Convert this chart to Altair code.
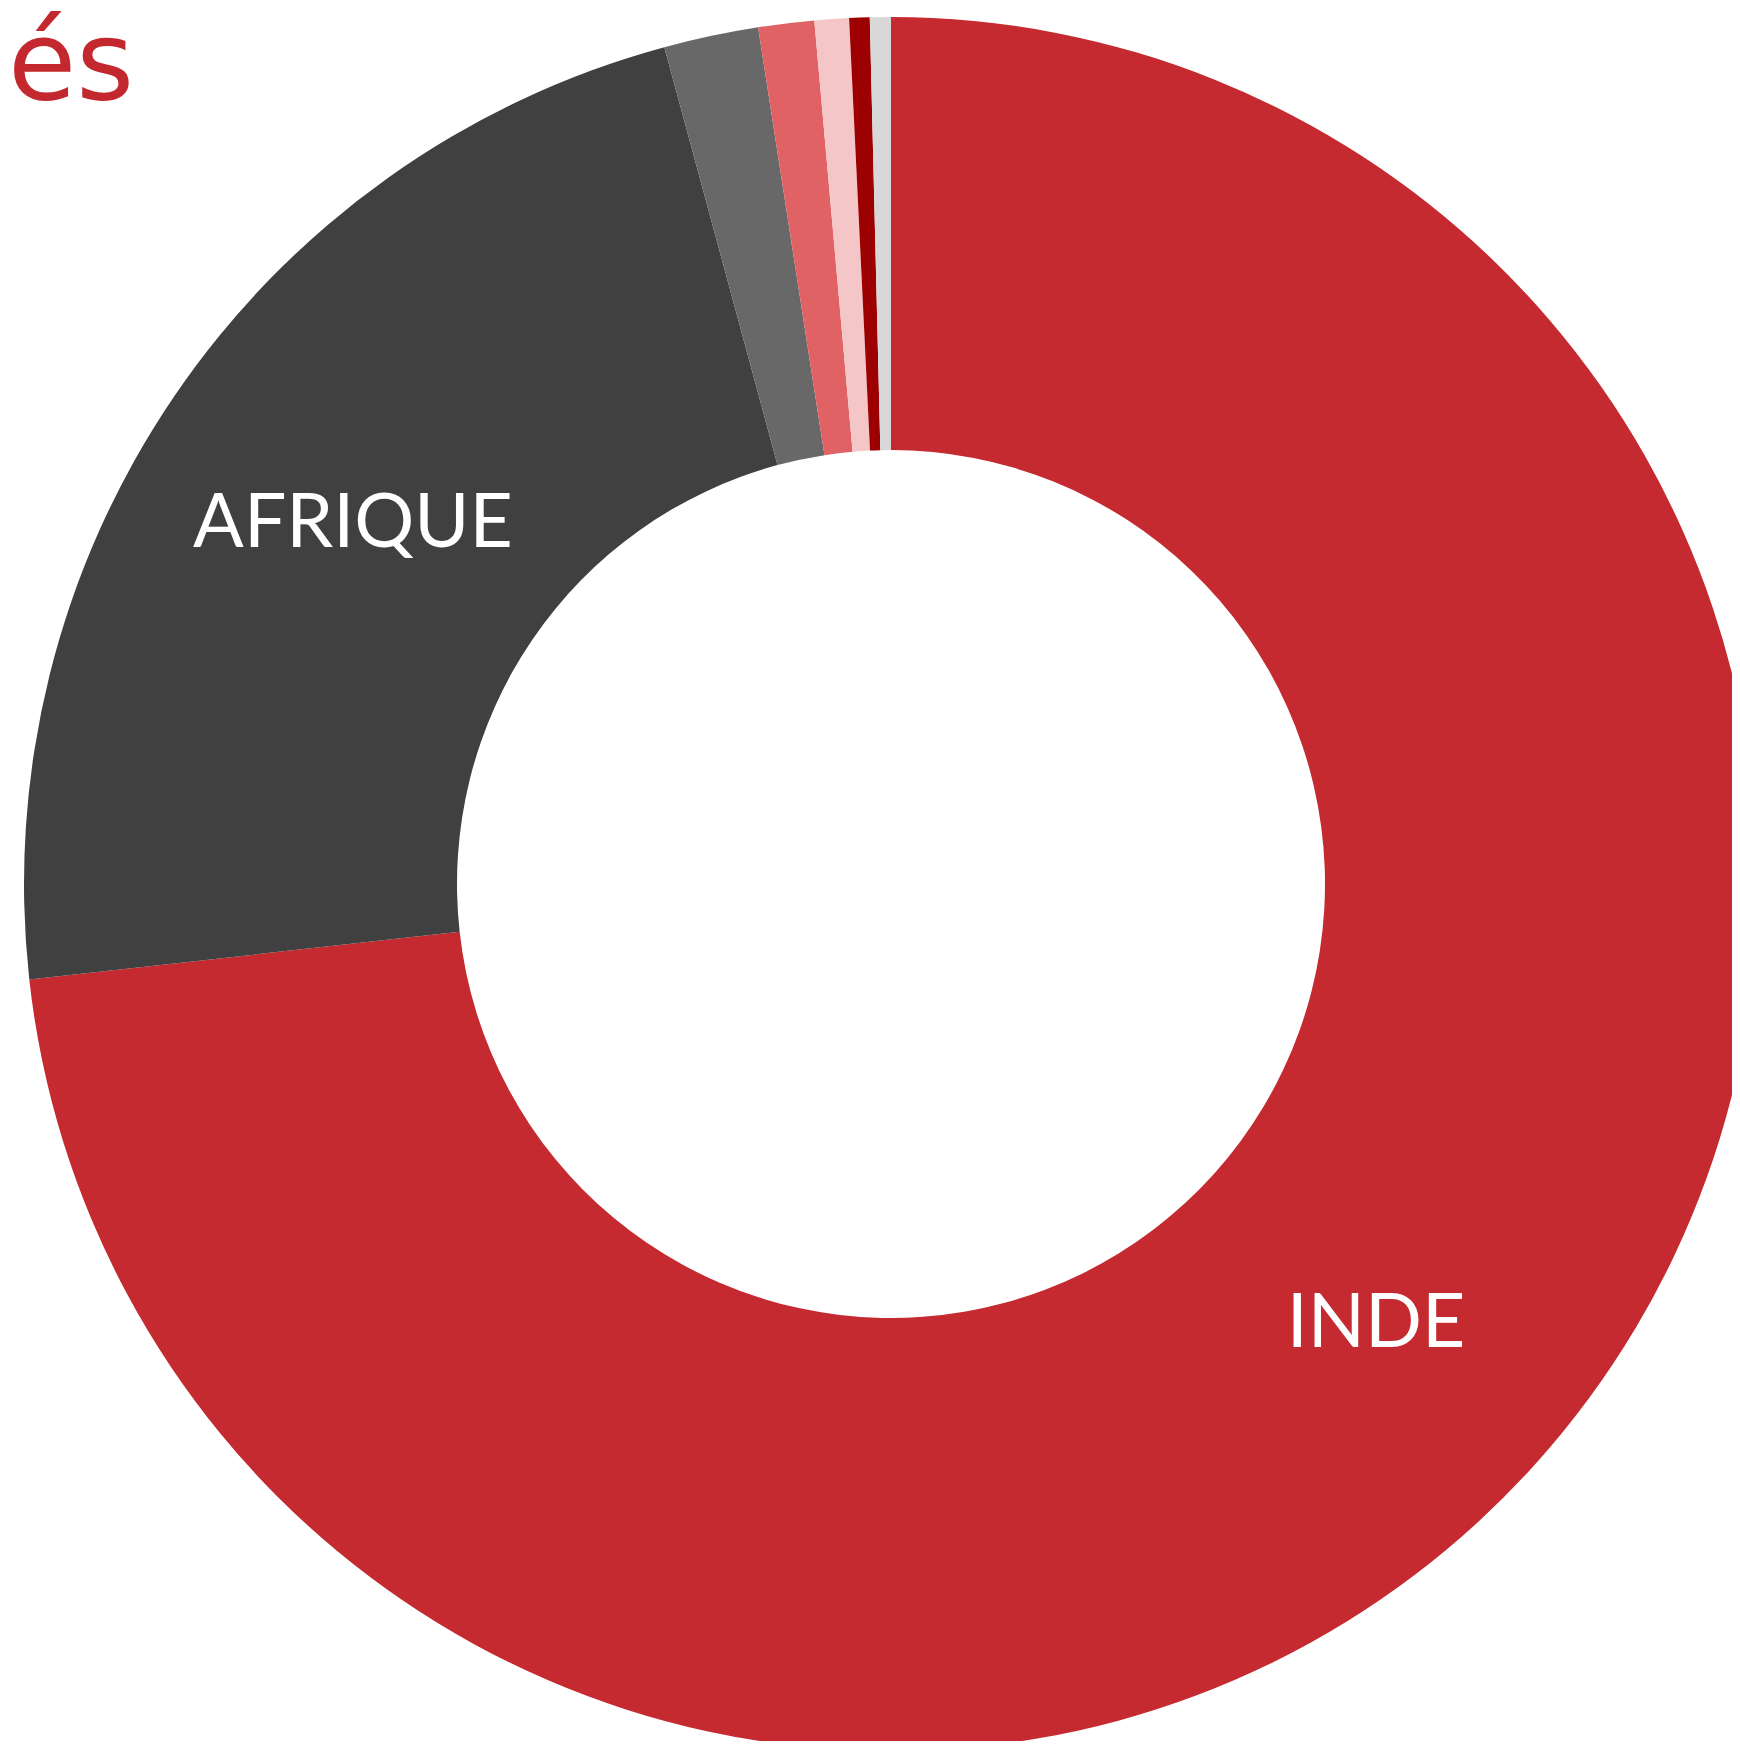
import altair as alt
import pandas as pd

# Data
categories = ["INDE", "AFRIQUE", "AUTRE 1", "AUTRE 2", "AUTRE 3", "AUTRE 4", "AUTRE 5"]
values = [73.25, 22.55, 1.76, 1.04, 0.64, 0.38, 0.39]
labels = ["INDE", "AFRIQUE", "", "", "", "", ""]
colors = ["#c42a30", "#404040", "#686868", "#e06264", "#f4c6c8", "#9c0000", "#d8d8d8"]
title_text = ["és"]

df = pd.DataFrame({
    "categorie": categories,
    "valeur": values,
    "label": labels,
    "idx": list(range(len(categories))),
})

CX, CY = 883, 876

base = alt.Chart(df).encode(
    theta=alt.Theta("valeur:Q", stack=True),
    order=alt.Order("idx:Q"),
    x=alt.value(CX),
    y=alt.value(CY),
)

arcs = base.mark_arc(radius=867, radius2=434).encode(
    color=alt.Color("categorie:N",
                    scale=alt.Scale(domain=categories, range=colors),
                    legend=None),
)

texts = base.mark_text(radius=651, font="Lato", fontWeight=400, fontSize=75, dy=6,
                       color="white", align="center", baseline="middle").encode(
    text="label:N",
)

title = alt.Chart(pd.DataFrame({"t": title_text})).mark_text(
    font="DejaVu Sans", fontSize=111, color="#c4282f", align="left", baseline="alphabetic"
).encode(text="t:N", x=alt.value(0), y=alt.value(91))

chart = alt.layer(arcs, texts, title).properties(
    width=1724, height=1733,
    autosize=alt.AutoSizeParams(type="none"),
    padding=0,
).configure_view(stroke=None)

chart.save("out.html", embed_options={"renderer": "svg", "actions": False})
